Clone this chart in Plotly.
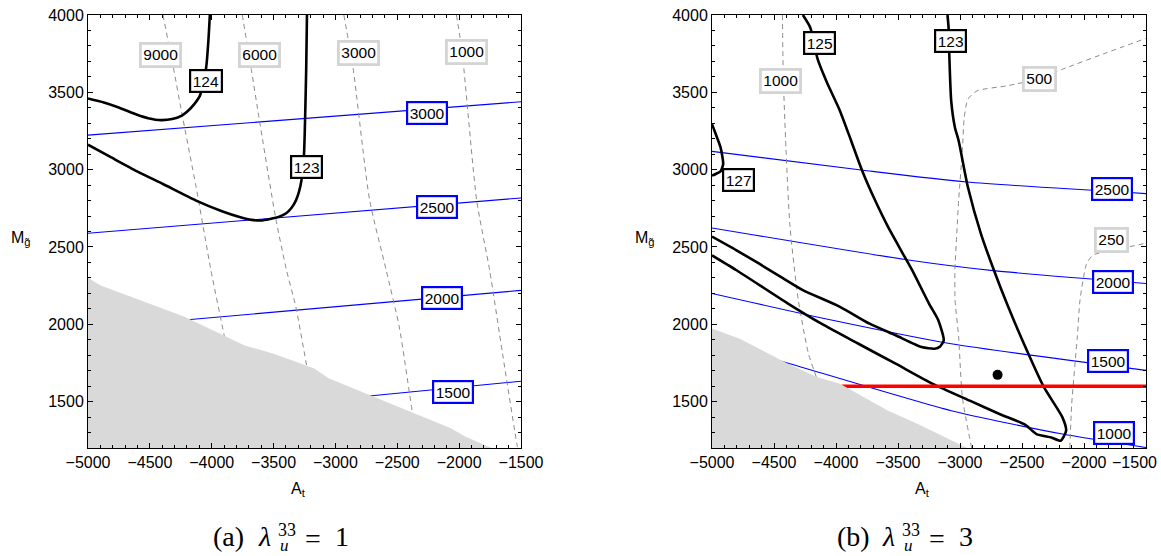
import plotly.graph_objects as go

# ---------------- data ----------------
# panel (a): lambda_u^33 = 1
A_A124 = [-4015, -4027, -4045, -4096, -4141, -4200, -4245, -4320, -4409, -4514, -4603, -4752, -4872, -5000]
M_A124 = [4000, 3832, 3660, 3477, 3424, 3374, 3348, 3327, 3320, 3333, 3355, 3402, 3434, 3460]

A_A123 = [-3230, -3236, -3245, -3254, -3275, -3296, -3320, -3356, -3395, -3454, -3529, -3604, -3678, -3768, -3917, -4126, -4394, -4603, -4812, -5000]
M_A123 = [4000, 3660, 3337, 3101, 2929, 2853, 2800, 2752, 2720, 2696, 2681, 2671, 2675, 2692, 2731, 2800, 2907, 2989, 3079, 3161]

BA3000_A = [-5000, -1500]
BA3000_M = [3223, 3439]
BA2500_A = [-5000, -1500]
BA2500_M = [2589, 2817]
BA2000_A = [-5000, -4185, -1500]
BA2000_M = [1973, 2030, 2219]
BA1500_A = [-5000, -2678, -1500]
BA1500_M = [1359, 1540, 1632]

DA9000_A = [-4394, -4305, -4245, -4126, -4006, -3902, -3880]
DA9000_M = [4000, 3639, 3380, 2886, 2348, 1939, 1850]
DA6000_A = [-3753, -3678, -3618, -3484, -3395, -3320, -3230, -3210]
DA6000_M = [4000, 3639, 3337, 2692, 2348, 2113, 1723, 1650]
DA3000_A = [-2932, -2858, -2723, -2589, -2484, -2380, -2370]
DA3000_M = [4000, 3660, 2800, 2348, 1983, 1441, 1400]
DA1000_A = [-2022, -1977, -1858, -1753, -1649, -1530, -1525]
DA1000_M = [4000, 3768, 2800, 2348, 1809, 1213, 1200]

GA_A = [-5000, -4902, -4215, -3738, -3499, -3171, -3051, -2723, -2425, -2067, -1947, -1738, -5000]
GA_M = [2301, 2252, 2047, 1864, 1810, 1714, 1649, 1542, 1445, 1327, 1273, 1200, 1200]

# panel (b): lambda_u^33 = 3
A_B125 = [-4267, -4207, -4148, -4073, -3968, -3878, -3789, -3684, -3579, -3460, -3385, -3250, -3175, -3131,
          -3160, -3205, -3310, -3519, -3729, -3968, -4267, -4432, -4626, -4806, -5000]
M_B125 = [4000, 3918, 3714, 3563, 3380, 3187, 2993, 2800, 2628, 2456, 2348, 2134, 2026, 1896,
          1857, 1842, 1853, 1929, 2004, 2113, 2221, 2300, 2395, 2480, 2567]

A_B123 = [-3101, -3092, -3086, -3071, -3041, -3011, -2936, -2831, -2727, -2622, -2473, -2323, -2174, -2144,
          -2189, -2263, -2383, -2473, -2682, -2921, -3220, -3519, -3819, -4118, -4387, -4806, -5000]
M_B123 = [4000, 3918, 3735, 3445, 3273, 3187, 2886, 2585, 2351, 2134, 1853, 1593, 1398, 1312,
          1247, 1268, 1290, 1350, 1420, 1506, 1615, 1745, 1874, 2004, 2134, 2351, 2445]

A_B127 = [-5000, -4970, -4931, -4910, -4931, -4970, -5000]
M_B127 = [3294, 3230, 3144, 3036, 2989, 2972, 2961]

BB2500_A = [-5000, -3780, -2946, -1500]
BB2500_M = [3118, 2996, 2920, 2845]
BB2000_A = [-5000, -3417, -2731, -1500]
BB2000_M = [2623, 2416, 2347, 2264]
BB1500_A = [-5000, -4028, -3071, -1500]
BB1500_M = [2199, 2026, 1874, 1702]
BB1000_A = [-5000, -4372, -3071, -2174, -1500]
BB1000_M = [1892, 1745, 1441, 1290, 1203]

DB1000_A = [-4432, -4425, -4403, -4371, -4304, -4222, -4177, -4150]
DB1000_M = [4000, 3600, 3127, 2631, 2157, 1809, 1701, 1640]
DB500_A = [-2906, -2981, -3011, -3040, -3041, -3026, -3011, -2981, -2966, -2936, -2861, -2622, -2359, -2174, -1815, -1500]
DB500_M = [1200, 1528, 1918, 2157, 2351, 2585, 2800, 3122, 3337, 3456, 3510, 3542, 3589, 3649, 3757, 3849]
DB250_A = [-2114, -2099, -2054, -2032, -1978, -1925, -1629, -1500]
DB250_M = [1200, 1485, 1918, 2157, 2394, 2448, 2502, 2524]

GB_A = [-5000, -4776, -4387, -4148, -3968, -3579, -3340, -3071, -2951, -2940, -5000]
GB_M = [1972, 1907, 1745, 1658, 1615, 1441, 1355, 1247, 1203, 1200, 1200]

RED_A = [-3953, -1500]
RED_M = [1600, 1600]
DOT_A = [-2697]
DOT_M = [1673]

X_TICKS = [-5000, -4500, -4000, -3500, -3000, -2500, -2000, -1500]
Y_TICKS = [1500, 2000, 2500, 3000, 3500, 4000]

LABELS_A = [("9000", -4412, 3744, "gray"), ("6000", -3615, 3744, "gray"), ("3000", -2816, 3753, "gray"),
            ("1000", -1938, 3763, "gray"), ("124", -4045, 3574, "black"), ("123", -3230, 3015, "black"),
            ("3000", -2258, 3368, "blue"), ("2500", -2183, 2757, "blue"), ("2000", -2138, 2171, "blue"),
            ("1500", -2052, 1560, "blue")]
LABELS_B = [("125", -4133, 3821, "black"), ("123", -3080, 3832, "black"), ("1000", -4444, 3574, "gray"),
            ("500", -2359, 3589, "gray"), ("127", -4790, 2936, "black"), ("2500", -1777, 2872, "blue"),
            ("250", -1782, 2548, "gray"), ("2000", -1770, 2275, "blue"), ("1500", -1809, 1762, "blue"),
            ("1000", -1755, 1296, "blue")]

# ---------------- figure ----------------
W, H = 1161, 556
fig = go.Figure()

BLACK_W = 2.6
DASH = "5px,4px"
SANS = "Liberation Sans"
SERIF = "Liberation Serif"


def line(xs, ys, xa, ya, color, width, dash=None, shape="spline"):
    fig.add_trace(go.Scatter(x=xs, y=ys, xaxis=xa, yaxis=ya, mode="lines",
                             line=dict(color=color, width=width, dash=dash, shape=shape, smoothing=0.6),
                             hoverinfo="skip", showlegend=False))


# panel a
for xs, ys in [(BA3000_A, BA3000_M), (BA2500_A, BA2500_M), (BA2000_A, BA2000_M), (BA1500_A, BA1500_M)]:
    line(xs, ys, "x", "y", "#0000ff", 1.1, shape="linear")
for xs, ys in [(DA9000_A, DA9000_M), (DA6000_A, DA6000_M), (DA3000_A, DA3000_M), (DA1000_A, DA1000_M)]:
    line(xs, ys, "x", "y", "#8a8a8a", 1.0, dash=DASH)
line(A_A124, M_A124, "x", "y", "black", BLACK_W)
line(A_A123, M_A123, "x", "y", "black", BLACK_W)
fig.add_trace(go.Scatter(x=GA_A, y=GA_M, xaxis="x", yaxis="y", mode="lines", fill="toself",
                         fillcolor="#d9d9d9", line=dict(width=0, color="#d9d9d9"),
                         hoverinfo="skip", showlegend=False))

# panel b
for xs, ys in [(BB2500_A, BB2500_M), (BB2000_A, BB2000_M), (BB1500_A, BB1500_M), (BB1000_A, BB1000_M)]:
    line(xs, ys, "x2", "y2", "#0000ff", 1.1)
for xs, ys in [(DB1000_A, DB1000_M), (DB500_A, DB500_M), (DB250_A, DB250_M)]:
    line(xs, ys, "x2", "y2", "#8a8a8a", 1.0, dash=DASH)
line(A_B125, M_B125, "x2", "y2", "black", BLACK_W)
line(A_B123, M_B123, "x2", "y2", "black", BLACK_W)
line(A_B127, M_B127, "x2", "y2", "black", BLACK_W)
line(RED_A, RED_M, "x2", "y2", "#ff0000", 3.5, shape="linear")
fig.add_trace(go.Scatter(x=GB_A, y=GB_M, xaxis="x2", yaxis="y2", mode="lines", fill="toself",
                         fillcolor="#d9d9d9", line=dict(width=0, color="#d9d9d9"),
                         hoverinfo="skip", showlegend=False))
fig.add_trace(go.Scatter(x=DOT_A, y=DOT_M, xaxis="x2", yaxis="y2", mode="markers",
                         marker=dict(color="black", size=10), hoverinfo="skip", showlegend=False))

# axes
x_text_a = ["\u2212" + str(abs(v)) for v in X_TICKS]
x_text_b = x_text_a[:-1] + [""]   # last label of panel b drawn as a shifted annotation (kept inside the page)

xd_a = [88 / W, 521 / W]
xd_b = [712 / W, 1146 / W]
yd = [1 - 448 / H, 1 - 15 / H]
TICK_FONT = dict(family=SANS, size=16, color="black")
common = dict(showgrid=False, zeroline=False, showline=True, linecolor="black", linewidth=1,
              mirror="allticks", ticks="inside", ticklen=5, tickwidth=1, tickcolor="black",
              automargin=False, ticklabeloverflow="allow",
              minor=dict(ticks="inside", ticklen=3, dtick=100, tickcolor="black", tickwidth=1),
              tickfont=TICK_FONT)
fig.update_layout(
    xaxis=dict(domain=xd_a, range=[-5000, -1500], tickvals=X_TICKS, ticktext=x_text_a, anchor="y", **common),
    yaxis=dict(domain=yd, range=[1200, 4000], tickvals=Y_TICKS, anchor="x", **common),
    xaxis2=dict(domain=xd_b, range=[-5000, -1500], tickvals=X_TICKS, ticktext=x_text_b, anchor="y2", **common),
    yaxis2=dict(domain=yd, range=[1200, 4000], tickvals=Y_TICKS, anchor="x2", **common),
)

STYLE = {"black": ("black", 2.2), "blue": ("#0000ff", 2.2), "gray": ("#d4d4d4", 2.8)}
ann = []
for labels, xr, yr in [(LABELS_A, "x", "y"), (LABELS_B, "x2", "y2")]:
    for txt, ax_, ay_, st in labels:
        bc, bw = STYLE[st]
        ann.append(dict(x=ax_, y=ay_, xref=xr, yref=yr, text=txt, showarrow=False,
                        font=dict(family=SANS, size=15.5, color="black"),
                        bgcolor="white", bordercolor=bc, borderwidth=bw, borderpad=1.5))

# last x tick label of panel b, shifted left so it stays on the page
ann.append(dict(x=X_TICKS[-1], xref="x2", y=1 - 462 / H, yref="paper", text=x_text_a[-1], showarrow=False,
                xanchor="right", xshift=13, yanchor="middle", font=TICK_FONT))


def pp(x, y):
    return x / W, 1 - y / H


def text_ann(txt, x, y, size, family=SANS, xanchor="center"):
    px, py = pp(x, y)
    ann.append(dict(x=px, y=py, xref="paper", yref="paper", text=txt, showarrow=False,
                    xanchor=xanchor, yanchor="middle", font=dict(family=family, size=size, color="black")))


for dx, letter in [(0, "a"), (624, "b")]:
    text_ann("M<sub>g̃</sub>", 21 + dx, 238, 16)
    text_ann("A<sub>t</sub>", 298 + dx, 489, 16)
    text_ann("(" + letter + ")", 229 + dx, 536, 28, SERIF)
    text_ann("<i>λ</i>", 264 + dx, 536, 28, SERIF)
    text_ann("33", 287 + dx, 530, 18, SERIF)
    text_ann("<i>u</i>", 284 + dx, 545, 17, SERIF)
    text_ann("=", 313 + dx, 538, 28, SERIF)
    text_ann("1" if letter == "a" else "3", 342 + dx, 536, 28, SERIF)

fig.update_layout(width=W, height=H, autosize=False, margin=dict(l=0, r=0, t=0, b=0, autoexpand=False),
                  paper_bgcolor="white", plot_bgcolor="white", annotations=ann, showlegend=False)

fig.write_html("out.html", config={"displayModeBar": False},
               post_script="document.body.style.margin='0';document.body.style.overflow='hidden';")
